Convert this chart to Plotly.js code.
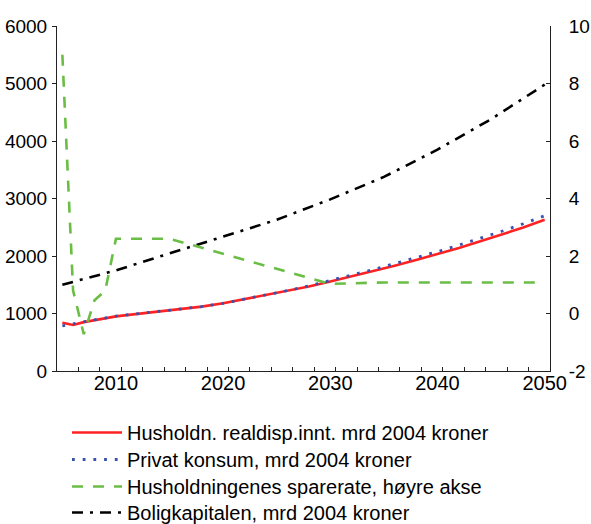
<!DOCTYPE html>
<html>
<head>
<meta charset="utf-8">
<script src="https://cdn.plot.ly/plotly-3.0.1.min.js"></script>
<style>html,body{margin:0;padding:0;background:#fff;}</style>
</head>
<body>
<div id="chart" style="width:591px;height:524px;"></div>
<script>
// Husholdn. realdisp.innt., mrd 2004 kroner (left axis)
const incomeYears = [2005,2006,2007,2008,2009,2010,2011,2012,2014,2016,2018,2020,2022,2024,2026,2028,2030,2032,2034,2036,2038,2040,2042,2044,2046,2048,2050];
const incomeValues = [840,800,850,885,915,950,972,992,1035,1075,1120,1178,1248,1320,1395,1470,1555,1645,1735,1830,1930,2030,2140,2255,2375,2495,2630];

// Privat konsum, mrd 2004 kroner (left axis)
const consumYears = [2005,2006,2007,2008,2009,2010,2011,2012,2014,2016,2018,2020,2022,2024,2026,2028,2030,2032,2034,2036,2038,2040,2042,2044,2046,2048,2050];
const consumValues = [785,823,855,890,920,955,975,995,1035,1075,1120,1178,1248,1320,1398,1480,1580,1670,1765,1865,1965,2075,2190,2305,2430,2560,2700];

// Husholdningenes sparerate, høyre akse (right axis, per cent)
const savingYears = [2005,2006,2007,2008,2009,2010,2015,2030,2035,2040,2045,2050];
const savingValues = [9.0,0.8,-0.72,0.46,0.8,2.6,2.6,1.03,1.08,1.08,1.08,1.08];

// Boligkapitalen, mrd 2004 kroner (left axis)
const housingYears = [2005,2010,2015,2020,2025,2030,2035,2040,2045,2050];
const housingValues = [1500,1750,2045,2335,2630,2985,3375,3850,4380,4980];

// Axis ticks
const xTickVals = [2010,2020,2030,2040,2050];
const xTickText = ['2010','2020','2030','2040','2050'];
const y2TickVals = [-2,0,2,4,6,8,10];
const y2TickText = ['-2','0','2','4','6','8','10'];

const names = [
  'Husholdn. realdisp.innt. mrd 2004 kroner',
  'Privat konsum, mrd 2004 kroner',
  'Husholdningenes sparerate, høyre akse',
  'Boligkapitalen, mrd 2004 kroner'
];

const FONT = 'Liberation Sans, Arial, sans-serif';

const traces = [
  {x: incomeYears, y: incomeValues, name: names[0], type: 'scatter', mode: 'lines',
   line: {color: '#ff2222', width: 2.6}, xaxis: 'x', yaxis: 'y', legend: 'legend'},
  {x: consumYears, y: consumValues, name: names[1], type: 'scatter', mode: 'lines',
   line: {color: '#3a50ad', width: 2.8, dash: '2.8px,7.9px'}, xaxis: 'x', yaxis: 'y', legend: 'legend2'},
  {x: savingYears, y: savingValues, name: names[2], type: 'scatter', mode: 'lines',
   line: {color: '#6abd45', width: 2.6, dash: '11px,10px'}, xaxis: 'x2', yaxis: 'y2', legend: 'legend3'},
  {x: housingYears, y: housingValues, name: names[3], type: 'scatter', mode: 'lines',
   line: {color: '#000000', width: 2.6, dash: '11px,7px,3px,7px'}, xaxis: 'x', yaxis: 'y', legend: 'legend4'}
];

function legendAt(top) {
  return {
    xref: 'container', yref: 'container',
    x: 67/591, y: (524-top)/524, xanchor: 'left', yanchor: 'top',
    font: {family: FONT, size: 20, color: '#000', weight: 'normal'},
    itemwidth: 50, bgcolor: 'rgba(0,0,0,0)', borderwidth: 0,
    itemclick: false, itemdoubleclick: false
  };
}

const layout = {
  width: 591, height: 524,
  margin: {l: 57, r: 41, t: 26, b: 153, autoexpand: false},
  paper_bgcolor: '#ffffff', plot_bgcolor: '#ffffff',
  font: {family: FONT, size: 20, color: '#000'},
  showlegend: true,
  legend: legendAt(413),
  legend2: legendAt(440),
  legend3: legendAt(467),
  legend4: legendAt(493),
  // tick marks (every second year, between categories)
  xaxis: {
    range: [2004.5, 2050.5], showgrid: false, zeroline: false,
    showline: true, linecolor: '#222', linewidth: 1,
    tickmode: 'linear', tick0: 2004.5, dtick: 2,
    ticks: 'inside', ticklen: 4, tickcolor: '#222', tickwidth: 1,
    showticklabels: false
  },
  // year labels
  xaxis2: {
    range: [2004.5, 2050.5], overlaying: 'x', anchor: 'y2', side: 'bottom',
    showgrid: false, zeroline: false, showline: false,
    tickmode: 'array', tickvals: xTickVals, ticktext: xTickText,
    ticks: '', tickfont: {family: FONT, size: 20, color: '#000', weight: 'normal'},
    ticklabelstandoff: -2
  },
  yaxis: {
    range: [0, 6000], tickmode: 'linear', tick0: 0, dtick: 1000,
    showgrid: false, zeroline: false, showline: true, linecolor: '#222', linewidth: 1,
    ticks: 'outside', ticklen: 4, tickcolor: '#222',
    tickfont: {family: FONT, size: 19, color: '#000', weight: 'normal'}, ticklabelstandoff: 1
  },
  yaxis2: {
    range: [-2, 10], tickmode: 'array', tickvals: y2TickVals, ticktext: y2TickText,
    overlaying: 'y', side: 'right', anchor: 'x2',
    showgrid: false, zeroline: false, showline: true, linecolor: '#222', linewidth: 1,
    ticks: 'inside', ticklen: 4, tickcolor: '#222',
    tickfont: {family: FONT, size: 19, color: '#000', weight: 'normal'}, ticklabelstandoff: 14
  }
};

Plotly.newPlot('chart', traces, layout, {staticPlot: true, displayModeBar: false});
</script>
</body>
</html>
